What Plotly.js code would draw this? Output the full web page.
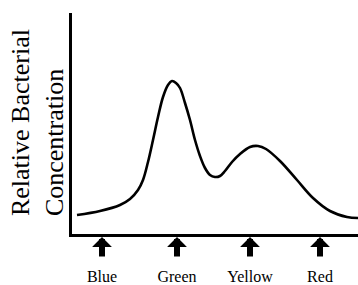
<!DOCTYPE html>
<html>
<head>
<meta charset="utf-8">
<script src="https://cdn.plot.ly/plotly-3.0.1.min.js"></script>
<style>html,body{margin:0;padding:0;background:#fff;}#chart{width:358px;height:285px;}</style>
</head>
<body>
<div id="chart"></div>
<script>
// Curve (x: position along the wavelength axis, y: relative concentration)
const curveX = [5, 28, 48, 58, 66, 71, 76, 81, 86, 91, 96, 100, 104, 108, 113, 118, 123, 128, 133, 138, 143, 148, 153, 160, 168, 178, 186, 194, 208, 225, 241, 258, 275, 286];
const curveY = [19, 23, 29, 35, 44, 54, 72, 94, 117, 137, 149, 153, 151, 146, 131, 114, 94, 78, 66, 59, 57, 58, 63, 72, 80, 87, 88, 85, 73, 54, 36, 23, 17, 16];
// Light colours marked with arrows
const categories = ['Blue', 'Green', 'Yellow', 'Red'];
const categoryPos = [30, 105, 178, 248];
const yTitle = 'Relative Bacterial<br>Concentration';

const serif = 'Liberation Serif, Times New Roman, serif';

const arrows = categoryPos.map(p => ({
  x: p, xref: 'x', y: -0.014, yref: 'paper',
  text: '', showarrow: true, arrowhead: 1, arrowwidth: 6, arrowsize: 0.55,
  arrowcolor: '#000', ax: 0, ay: 21
}));

const layout = {
  width: 358, height: 285,
  margin: {l: 72, r: 0, t: 13, b: 51},
  paper_bgcolor: '#fff', plot_bgcolor: '#fff',
  showlegend: false,
  xaxis: {
    range: [0, 286], showgrid: false, zeroline: false,
    showline: true, linecolor: '#000', linewidth: 3,
    tickmode: 'array', tickvals: categoryPos, ticktext: categories,
    ticks: '', ticklabelstandoff: 26,
    tickfont: {family: serif, size: 16, color: '#000'},
    fixedrange: true
  },
  yaxis: {
    range: [0, 221], showgrid: false, zeroline: false,
    showline: true, linecolor: '#000', linewidth: 3,
    showticklabels: false, ticks: '', fixedrange: true
  },
  annotations: [{
    text: yTitle, xref: 'paper', yref: 'paper',
    x: -0.12, y: 0.505, xanchor: 'center', yanchor: 'middle',
    textangle: -90, align: 'left', showarrow: false,
    font: {family: serif, size: 26, color: '#000'}
  }].concat(arrows)
};

Plotly.newPlot('chart', [{
  x: curveX, y: curveY, type: 'scatter', mode: 'lines',
  line: {color: '#000', width: 2.6, shape: 'spline', smoothing: 1},
  hoverinfo: 'skip'
}], layout, {staticPlot: true, displayModeBar: false});
</script>
</body>
</html>
